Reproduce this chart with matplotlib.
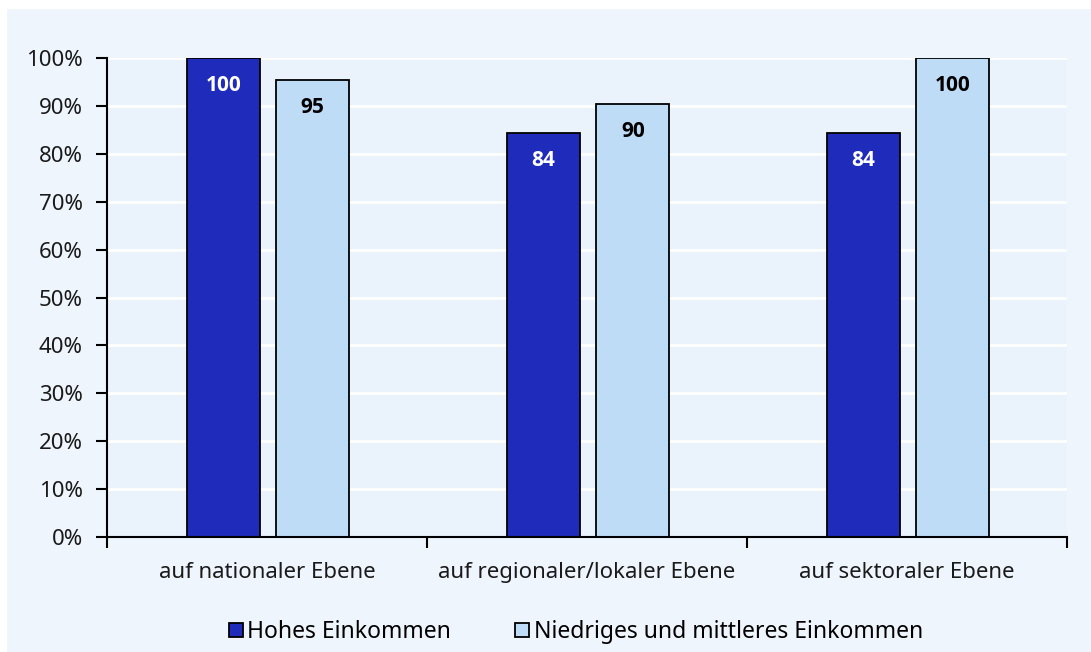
import matplotlib
matplotlib.use("Agg")
import matplotlib.pyplot as plt
import numpy as np
from matplotlib.patches import Rectangle
from matplotlib.ticker import FixedLocator, NullFormatter

plt.rcParams["font.family"] = ["Noto Sans", "DejaVu Sans"]

ebenen = ["auf nationaler Ebene", "auf regionaler/lokaler Ebene", "auf sektoraler Ebene"]
hohes = [100, 84.4, 84.4]
niedriges = [95.4, 90.4, 100]
serien = ["Hohes Einkommen", "Niedriges und mittleres Einkommen"]
yticks = [0, 10, 20, 30, 40, 50, 60, 70, 80, 90, 100]

dunkel = "#1f2bbb"
hell = "#bfdcf7"

fig = plt.figure(figsize=(10.91, 6.52), dpi=100)
fig.patch.set_facecolor("white")
fig.patches.append(Rectangle((7 / 1091, 0), 1, 1 - 9 / 652, transform=fig.transFigure,
                             facecolor="#eef5fc", edgecolor="none", zorder=-10))

ax = fig.add_axes([107 / 1091, 1 - 537 / 652, 960 / 1091, 479 / 652])
ax.set_facecolor("#eaf3fc")

x = np.arange(len(ebenen))
breite = 0.228
b1 = ax.bar(x - 0.137, hohes, breite, color=dunkel, edgecolor="black", linewidth=1.3,
            label=serien[0], zorder=3)
b2 = ax.bar(x + 0.143, niedriges, breite, color=hell, edgecolor="black", linewidth=1.3,
            label=serien[1], zorder=3)

for balken, farbe in ((b1, "white"), (b2, "black")):
    for r in balken:
        h = r.get_height()
        ax.annotate(f"{h:.0f}", (r.get_x() + r.get_width() / 2, h),
                    xytext=(0, -20), textcoords="offset points",
                    ha="center", va="center", fontsize=15, fontweight="bold",
                    family=["Open Sans", "DejaVu Sans"], color=farbe, zorder=4)

ax.set_xlim(-0.5, len(ebenen) - 0.5)
ax.set_ylim(0, 100)
ax.set_yticks(yticks)
ax.set_yticklabels([f"{t}%" for t in yticks], fontsize=16, color="#1a1a1a")
ax.yaxis.grid(True, color="white", linewidth=2, zorder=1)
ax.set_axisbelow(True)

# Kategorienamen mittig, Teilstriche zwischen den Gruppen
ax.set_xticks(x)
ax.set_xticklabels(ebenen, fontsize=16, color="#1a1a1a")
ax.tick_params(axis="x", which="major", length=0, pad=18)
ax.xaxis.set_minor_locator(FixedLocator(np.arange(-0.5, len(ebenen), 1.0)))
ax.xaxis.set_minor_formatter(NullFormatter())
ax.tick_params(axis="x", which="minor", length=8, width=1.5, direction="out")
ax.tick_params(axis="y", length=8, width=1.5, direction="out", pad=9.5)

for s in ("top", "right"):
    ax.spines[s].set_visible(False)
for s in ("left", "bottom"):
    ax.spines[s].set_linewidth(1.5)
    ax.spines[s].set_zorder(5)

leg = fig.legend(handles=[b1, b2], loc="center", bbox_to_anchor=(0.528, 1 - 632 / 652),
                 ncol=2, frameon=False, fontsize=16.5, handlelength=0.6, handleheight=0.6,
                 handletextpad=0.2, columnspacing=2.8)

fig.savefig("out.png", dpi=100)
plt.close(fig)
